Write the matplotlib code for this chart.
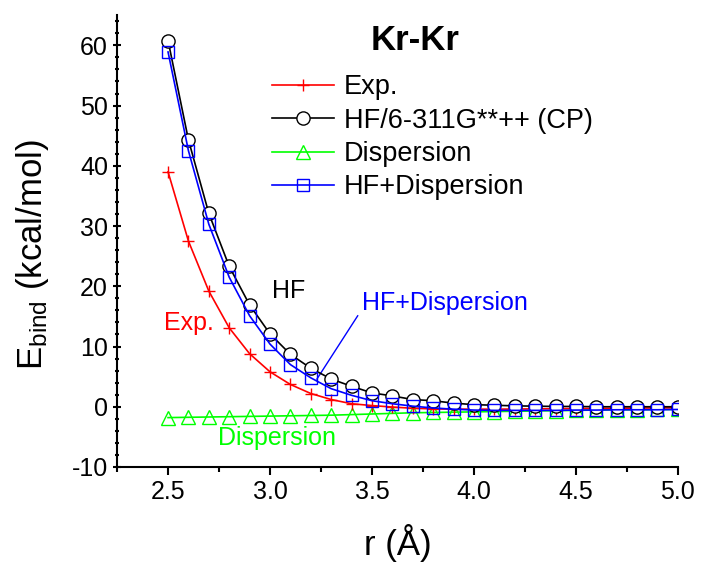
import numpy as np
import matplotlib
matplotlib.use('Agg')
import matplotlib.pyplot as plt
from matplotlib.ticker import MultipleLocator, FormatStrFormatter

plt.rcParams['font.family'] = ['Liberation Sans', 'DejaVu Sans']
plt.rcParams['mathtext.default'] = 'regular'
plt.rcParams['axes.unicode_minus'] = False

# distances (Angstrom)
r = [2.5, 2.6, 2.7, 2.8, 2.9, 3.0, 3.1, 3.2, 3.3, 3.4, 3.5, 3.6, 3.7,
     3.8, 3.9, 4.0, 4.1, 4.2, 4.3, 4.4, 4.5, 4.6, 4.7, 4.8, 4.9, 5.0]

# binding energies (kcal/mol)
e_exp = [39.0, 27.5, 19.2, 13.1, 8.8, 5.8, 3.7, 2.2, 1.2, 0.5, 0.2, -0.05, -0.25,
         -0.35, -0.4, -0.4, -0.4, -0.38, -0.35, -0.32, -0.3, -0.28, -0.25, -0.22, -0.2, -0.18]
e_hf = [60.8, 44.3, 32.1, 23.3, 16.9, 12.1, 8.7, 6.4, 4.6, 3.4, 2.3, 1.8, 1.2,
        1.0, 0.6, 0.35, 0.25, 0.15, 0.1, 0.05, 0.05, 0.0, 0.0, 0.0, 0.0, 0.0]
e_disp = [-1.8, -1.75, -1.7, -1.65, -1.6, -1.55, -1.5, -1.45, -1.4, -1.3, -1.2, -1.1, -1.0,
          -0.95, -0.9, -0.85, -0.8, -0.75, -0.7, -0.65, -0.6, -0.55, -0.5, -0.5, -0.45, -0.45]
e_hfd = [58.9, 42.5, 30.3, 21.5, 15.1, 10.4, 7.0, 4.8, 3.0, 1.9, 1.0, 0.5, 0.1,
         -0.2, -0.4, -0.55, -0.6, -0.6, -0.6, -0.6, -0.55, -0.55, -0.5, -0.5, -0.5, -0.45]

labels = ['Exp.', 'HF/6-311G**++ (CP)', 'Dispersion', 'HF+Dispersion']
green = '#00ff00'

fig = plt.figure(figsize=(7.01, 5.64), dpi=100)
ax = fig.add_axes([0.167, 0.172, 0.800, 0.801])

lw = 1.2
ax.plot(r, e_exp, color='red', marker='+', ms=9, mew=1.0, lw=lw, label=labels[0], zorder=3)
ax.plot(r, e_hf, color='black', marker='o', ms=9.5, mfc='white', mew=1.0, lw=lw, label=labels[1], zorder=4)
ax.plot(r, e_disp, color=green, marker='^', ms=10, mfc='none', mew=1.0, lw=lw, label=labels[2], zorder=2)
ax.plot(r, e_hfd, color='blue', marker='s', ms=8, mfc='none', mew=1.0, lw=lw, label=labels[3], zorder=5)

ax.set_xlim(2.25, 5.0)
ax.set_ylim(-10, 65)
ax.xaxis.set_major_locator(MultipleLocator(0.5))
ax.xaxis.set_minor_locator(MultipleLocator(0.25))
ax.yaxis.set_major_locator(MultipleLocator(10))
ax.yaxis.set_minor_locator(MultipleLocator(2))
ax.xaxis.set_major_formatter(FormatStrFormatter('%.1f'))

for s in ['top', 'right']:
    ax.spines[s].set_visible(False)
for s in ['left', 'bottom']:
    ax.spines[s].set_linewidth(1.5)

ax.tick_params(which='major', direction='out', length=6, width=1.5, labelsize=18)
ax.tick_params(which='minor', direction='out', length=3.5, width=1.5)
ax.tick_params(axis='y', which='both', direction='inout')

ax.set_xlabel('r (Å)', fontsize=25, labelpad=14)
ax.set_ylabel(r'E$_{bind}$ (kcal/mol)', fontsize=25)
ax.yaxis.set_label_coords(-0.118, 0.47)

ax.text(3.71, 60.8, 'Kr-Kr', fontsize=25, fontweight='bold', ha='center', va='center')
ax.text(3.09, 19.2, 'HF', fontsize=18, color='black', ha='center', va='center')
ax.text(2.60, 13.9, 'Exp.', fontsize=18, color='red', ha='center', va='center')
ax.text(3.856, 17.2, 'HF+Dispersion', fontsize=18, color='blue', ha='center', va='center')
ax.plot([3.43, 3.23], [15.1, 4.6], color='blue', lw=1.0)
ax.text(3.035, -5.2, 'Dispersion', fontsize=18, color=green, ha='center', va='center')

ax.legend(loc='upper left', bbox_to_anchor=(0.276, 0.869), frameon=False, fontsize=19.5,
          handlelength=2.3, handletextpad=0.35, labelspacing=0.27, borderpad=0, borderaxespad=0)

fig.savefig('out.png', dpi=100)
